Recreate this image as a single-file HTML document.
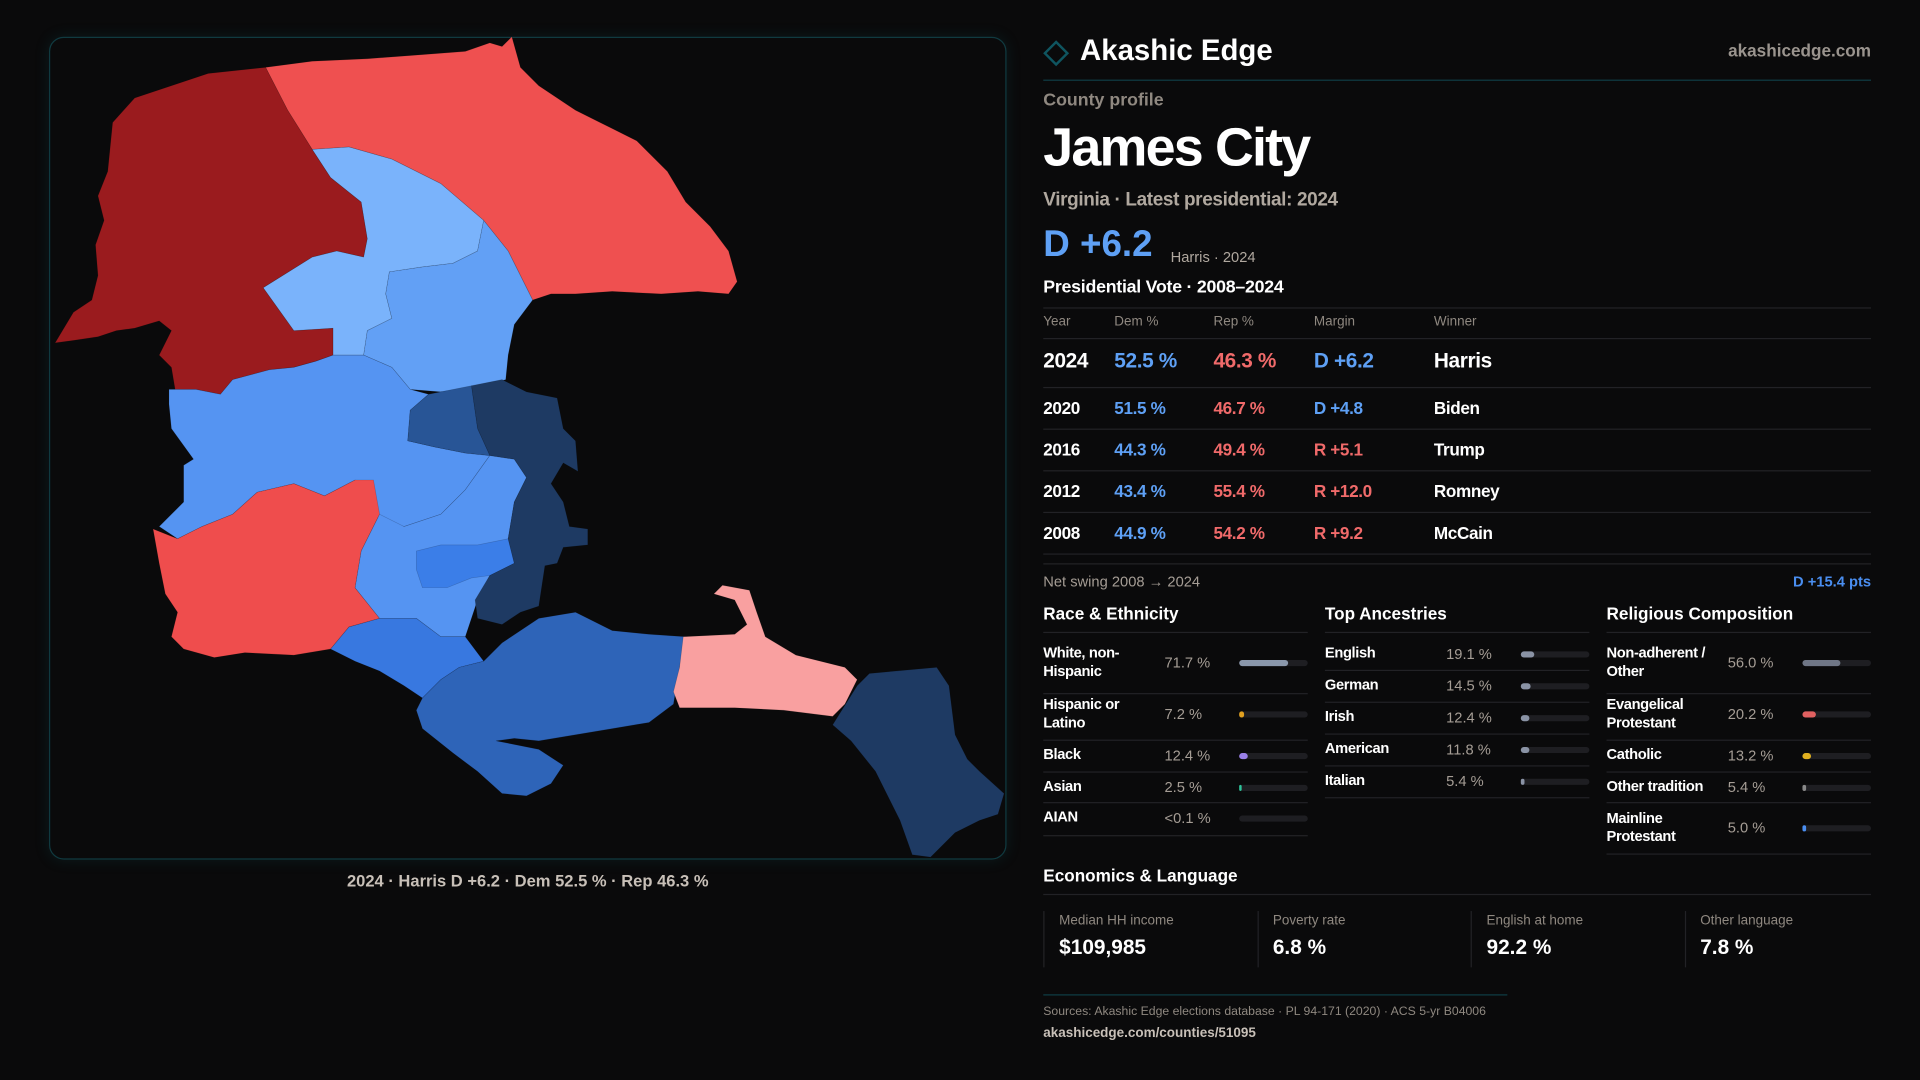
<!DOCTYPE html>
<html><head><meta charset="utf-8"><style>
*{margin:0;padding:0;box-sizing:border-box}
body{width:1920px;height:1080px;background:#0a0a0b;overflow:hidden;font-family:"Liberation Sans",sans-serif;color:#eee}
#wrap{position:absolute;left:0;top:0;width:1568px;height:882px;transform:scale(1.22449);transform-origin:0 0}
.a{position:absolute;white-space:nowrap}
.hr{position:absolute;height:1px;background:#222226}
.g{color:#a59d95}
.b{color:#5ea0f5}.r{color:#f06a6a}
.track{position:absolute;height:5px;border-radius:3px;background:#1e1e22}
.fill{position:absolute;left:0;top:0;height:5px;border-radius:3px}
</style></head><body>
<div id="wrap">
<div style="position:absolute;left:40px;top:30px;width:782px;height:672px;border:1px solid #103a40;border-radius:12px;box-shadow:0 0 12px rgba(20,120,130,0.15)"></div>
<svg width="1568" height="882" style="position:absolute;left:0;top:0">
<g stroke="#0a0a0b" stroke-opacity="0.2" stroke-width="0.5">
<polygon fill="#9a1b1e" points="45,280 60,255 75,245 80,225 78,200 85,180 80,160 88,140 92,100 110,80 140,70 170,60 217,55 235,90 255,122 270,145 295,165 300,195 297,210 275,205 255,210 215,235 240,270 272,268 272,290 258,295 240,300 220,302 190,310 180,322 160,318 143,318 140,300 130,290 140,270 130,262 110,268 95,270 80,275 60,278"/>
<polygon fill="#ef5050" points="217,55 255,50 300,48 340,45 380,42 400,35 410,38 418,30 425,55 440,70 470,90 490,100 520,115 545,140 560,165 580,185 595,205 602,230 595,240 570,238 540,240 500,238 470,240 450,240 435,245 415,205 395,180 360,150 320,130 285,120 255,122 235,90"/>
<polygon fill="#7ab3fb" points="255,122 285,120 320,130 360,150 395,180 390,205 370,215 345,218 318,222 315,240 320,260 300,270 297,290 272,290 272,268 240,270 215,235 255,210 275,205 297,210 300,195 295,165 270,145"/>
<polygon fill="#62a0f5" points="395,180 415,205 435,245 420,265 415,290 413,310 395,315 360,320 335,318 320,300 297,290 300,270 320,260 315,240 318,222 345,218 370,215 390,205"/>
<polygon fill="#5594f2" points="138,318 160,318 180,322 190,310 220,302 240,300 258,295 272,290 297,290 320,300 335,318 350,322 335,335 333,360 355,365 380,370 400,372 380,400 360,420 330,430 310,425 300,400 290,392 265,405 240,395 210,402 190,420 165,430 145,440 130,430 140,420 150,410 150,380 158,375 140,350 138,330"/>
<polygon fill="#ef4d4d" points="125,432 145,440 165,430 190,420 210,402 240,395 265,405 290,392 305,392 310,420 295,450 290,480 310,505 285,512 270,530 240,535 200,533 175,537 150,530 140,520 145,500 135,485 130,460"/>
<polygon fill="#5594f2" points="310,420 330,430 360,420 380,400 400,372 420,375 430,390 420,410 415,440 420,460 400,470 390,490 385,505 380,520 360,520 340,505 310,505 290,480 295,450"/>
<polygon fill="#3b7ee8" points="340,450 360,445 390,445 415,440 420,460 400,470 385,472 365,480 345,480 340,465"/>
<polygon fill="#1e3a63" points="385,315 410,310 430,320 455,325 460,350 470,360 472,385 460,378 450,395 460,410 465,430 480,432 480,445 460,447 455,460 445,462 440,495 425,500 410,510 390,505 388,490 400,470 420,460 415,440 420,410 430,390 420,375 400,372 390,350"/>
<polygon fill="#285596" points="335,335 350,322 385,315 390,350 400,372 380,370 355,365 333,360"/>
<polygon fill="#3878e0" points="270,530 285,512 310,505 340,505 360,520 380,520 395,540 375,545 360,555 345,570 330,560 310,548 290,540"/>
<polygon fill="#2e64b8" points="345,570 360,555 375,545 395,540 410,525 440,505 470,500 500,515 530,518 560,520 555,545 550,575 530,590 500,595 470,600 440,605 420,603 405,605 440,612 460,625 450,640 430,650 410,648 390,630 370,615 345,595 340,580"/>
<polygon fill="#f9a0a0" points="558,520 600,518 610,510 600,490 583,485 590,478 612,482 618,500 625,520 650,535 690,545 700,555 690,575 680,585 640,580 600,578 555,578 550,565 555,545"/>
<polygon fill="#1e3a63" points="680,592 700,560 710,550 765,545 775,560 780,600 790,620 800,630 820,648 815,665 800,670 780,680 760,700 745,698 735,670 715,630 695,605"/>
</g>
</svg>
<div class="a g" style="left:40px;width:782px;text-align:center;top:712px;font-size:13.5px;font-weight:bold;color:#c8c0b8">2024 · Harris D +6.2 · Dem 52.5 % · Rep 46.3 %</div>

<div style="position:absolute;left:855px;top:36px;width:15px;height:15px;border:2px solid #0f5560;transform:rotate(45deg)"></div>
<div class="a" style="left:882px;top:28px;font-size:24px;font-weight:bold;color:#fff">Akashic Edge</div>
<div class="a g" style="right:40px;top:33px;font-size:14px;font-weight:bold;color:#9a948e">akashicedge.com</div>
<div class="hr" style="left:852px;width:676px;top:65px;background:#0f3d45"></div>
<div class="a g" style="left:852px;top:74px;font-size:14.5px;font-weight:bold;color:#8f8880">County profile</div>
<div class="a" style="left:852px;top:96px;font-size:44px;font-weight:bold;color:#fff;letter-spacing:-1.5px">James City</div>
<div class="a g" style="left:852px;top:155px;font-size:15.5px;font-weight:bold;color:#b0a89f;letter-spacing:-0.3px">Virginia · Latest presidential: 2024</div>
<div class="a b" style="left:852px;top:183px;font-size:30px;font-weight:bold">D +6.2</div>
<div class="a g" style="left:956px;top:203px;font-size:12px;color:#b0a89f">Harris · 2024</div>
<div class="a" style="left:852px;top:227px;font-size:14.5px;font-weight:bold;color:#fff;letter-spacing:-0.2px">Presidential Vote · 2008–2024</div>
<div class="hr" style="left:852px;width:676px;top:251px"></div>
<div id="vt"></div>
<div class="a g" style="left:852px;top:468px;font-size:12px">Net swing 2008 → 2024</div>
<div class="a b" style="right:40px;top:468px;font-size:12px;font-weight:bold;color:#4a8ef0">D +15.4 pts</div>
<div id="demo"></div>
<div class="a" style="left:852px;top:707px;font-size:14px;font-weight:bold;color:#fff">Economics &amp; Language</div>
<div class="hr" style="left:852px;width:676px;top:730px"></div>
<div id="econ"></div>
<div class="hr" style="left:852px;width:379px;top:812px;background:#0f3d45"></div>
<div class="a g" style="left:852px;top:821px;font-size:10px;color:#8f8880">Sources: Akashic Edge elections database · PL 94-171 (2020) · ACS 5-yr B04006</div>
<div class="a" style="left:852px;top:838px;font-size:11px;font-weight:bold;color:#c8c0b8">akashicedge.com/counties/51095</div>
</div>
<script>
const years=["2024","2020","2016","2012","2008"];
const demPct=[52.5,51.5,44.3,43.4,44.9];
const repPct=[46.3,46.7,49.4,55.4,54.2];
const margins=[6.2,4.8,-5.1,-12.0,-9.2];
const winners=["Harris","Biden","Trump","Romney","McCain"];
const raceLabels=["White, non-<br>Hispanic","Hispanic or<br>Latino","Black","Asian","AIAN"];
const raceVals=[71.7,7.2,12.4,2.5,0.05];
const raceText=["71.7 %","7.2 %","12.4 %","2.5 %","<0.1 %"];
const raceColors=["#8a97ab","#e0a020","#9a80e8","#2ec49a","#555"];
const ancLabels=["English","German","Irish","American","Italian"];
const ancVals=[19.1,14.5,12.4,11.8,5.4];
const relLabels=["Non-adherent /<br>Other","Evangelical<br>Protestant","Catholic","Other tradition","Mainline<br>Protestant"];
const relVals=[56.0,20.2,13.2,5.4,5.0];
const relColors=["#6f7686","#e06060","#e0b020","#888","#4a8ef0"];
const econLabels=["Median HH income","Poverty rate","English at home","Other language"];
const econVals=["$109,985","6.8 %","92.2 %","7.8 %"];

function el(parent,cls,style,html){const d=document.createElement('div');d.className=cls;d.style.cssText=style;d.innerHTML=html||'';parent.appendChild(d);return d;}
const vt=document.getElementById('vt');
const cols=[852,910,991,1073,1171];
["Year","Dem %","Rep %","Margin","Winner"].forEach((h,i)=>{const d=el(vt,'a g','left:'+cols[i]+'px;top:257px;font-size:11px;color:#8f8880',h);

});
el(vt,'hr','left:852px;width:676px;top:276px');
const rowY=[295,333,367,401,435], lineY=[316,350,384,418,452];
years.forEach((y,i)=>{
  const big=i===0, fs=big?17:14, top=rowY[i]-(big?10:8);
  const m=margins[i];
  const mt=(m>=0?'D +':'R +')+Math.abs(m).toFixed(1);
  const cells=[[y,'#fff'],[demPct[i].toFixed(1)+' %','#5ea0f5'],[repPct[i].toFixed(1)+' %','#f06a6a'],[mt,m>=0?'#5ea0f5':'#f06a6a'],[winners[i],'#fff']];
  cells.forEach((c,j)=>{const d=el(vt,'a','left:'+cols[j]+'px;top:'+top+'px;font-size:'+fs+'px;font-weight:bold;letter-spacing:-0.3px;color:'+c[1],c[0]);
  
  });
  el(vt,'hr','left:852px;width:676px;top:'+lineY[i]+'px');
});
el(vt,'hr','left:852px;width:676px;top:460px');

const demo=document.getElementById('demo');
function section(x,title,labels,vals,texts,colors,ys,lines,maxv){
  const t=el(demo,'a','left:'+x+'px;top:493px;font-size:14px;font-weight:bold;color:#fff',title);
  
  
  el(demo,'hr','left:'+x+'px;width:216px;top:516px');
  labels.forEach((l,i)=>{
    const two=l.indexOf('<br>')>=0;
    const lab=el(demo,'a','left:'+x+'px;top:'+(ys[i]-(two?15:8))+'px;font-size:12px;font-weight:bold;line-height:15px;letter-spacing:-0.3px;color:#fff',l);
    
    
    const v=el(demo,'a g','left:'+(x+99)+'px;top:'+(ys[i]-7)+'px;font-size:12px;color:#a59d95',texts[i]);
    
    
    const tr=el(demo,'track','left:'+(x+160)+'px;width:56px;top:'+(ys[i]-2)+'px');
    
    
    const w=Math.max(vals[i]>0.5?2:0,56*vals[i]/maxv);
    el(tr,'fill','width:'+w+'px;background:'+colors[i]);
    el(demo,'hr','left:'+x+'px;width:216px;top:'+lines[i]+'px');
  });
}
section(852,"Race &amp; Ethnicity",raceLabels,raceVals,raceText,raceColors,[541,583,617,643,668],[566,604,630,655,682],100);
section(1082,"Top Ancestries",ancLabels,ancVals,ancVals.map(v=>v.toFixed(1)+' %'),ancVals.map(()=>"#8a93a5"),[534,560,586,612,638],[547,573,599,625,651],100);
section(1312,"Religious Composition",relLabels,relVals,relVals.map(v=>v.toFixed(1)+' %'),relColors,[541,583,617,643,676],[566,604,630,655,697],100);

const econ=document.getElementById('econ');
econLabels.forEach((l,i)=>{
  const x=852+i*174.5;
  const c=el(econ,'a','left:'+x+'px;top:744px;width:174px;height:46px;border-left:1px solid #222226');
  
  
  el(c,'a g','left:12px;top:2px;font-size:11px;color:#8f8880',l);
  el(c,'a','left:12px;top:20px;font-size:17px;font-weight:bold;color:#fff',econVals[i]);
});
</script>
</body></html>
